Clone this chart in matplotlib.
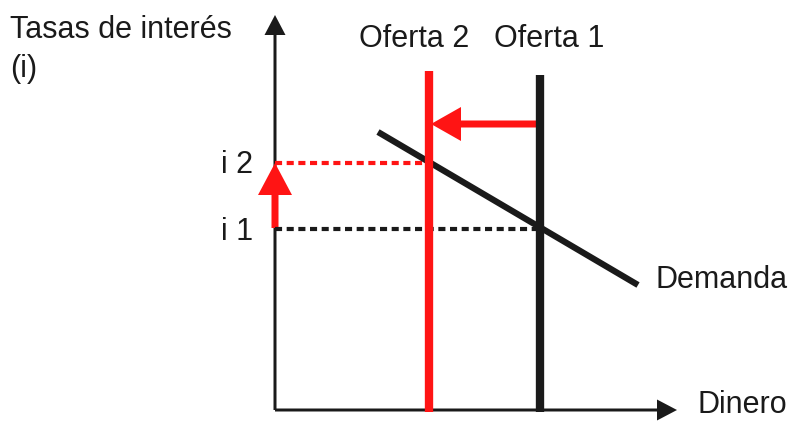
import matplotlib.pyplot as plt

# schematic coordinates (pixel-like units, y grows downward)
origin_x, origin_y = 275, 410
money_axis_end = 677
rate_axis_top = 15

supply_names = ['Oferta 1', 'Oferta 2']
supply_x = [540, 429]
supply_top = [75, 71]
supply_colors = ['#1a1a1a', '#ff1414']

demand_x = [378, 638]
demand_y = [132, 285]

rate_labels = ['i 1', 'i 2']
rate_y = [229, 163]

plt.rcParams['font.family'] = ['Liberation Sans', 'DejaVu Sans']
fig = plt.figure(figsize=(7.95, 4.21), dpi=100)
ax = fig.add_axes([0, 0, 1, 1])
ax.set_xlim(0, 795)
ax.set_ylim(421, 0)
ax.axis('off')

black = '#1a1a1a'
red = '#ff1414'
fs = 22

# axes with arrowheads
ax.arrow(origin_x, origin_y, 0, rate_axis_top - origin_y, width=3, head_width=21,
         head_length=20, length_includes_head=True, color=black, lw=0)
ax.arrow(origin_x, origin_y, money_axis_end - origin_x, 0, width=3, head_width=21,
         head_length=20, length_includes_head=True, color=black, lw=0)

# dotted guide lines for interest rates
ax.plot([origin_x, supply_x[0]], [rate_y[0], rate_y[0]], color=black, lw=3,
        dashes=(1.7, 1.1))
ax.plot([origin_x, supply_x[1]], [rate_y[1], rate_y[1]], color=red, lw=3,
        dashes=(1.7, 1.1))

# demand curve
ax.plot(demand_x, demand_y, color=black, lw=4.5, solid_capstyle='butt')

# supply lines
for sx, top, c in zip(supply_x, supply_top, supply_colors):
    ax.plot([sx, sx], [top, origin_y + 2], color=c, lw=6, solid_capstyle='butt')

# shift arrows
ax.arrow(supply_x[0], 124, supply_x[1] + 2 - supply_x[0], 0, width=7, head_width=34,
         head_length=30, length_includes_head=True, color=red, lw=0)
ax.arrow(origin_x, rate_y[0] - 1, 0, rate_y[1] - rate_y[0] + 1, width=7, head_width=34,
         head_length=32, length_includes_head=True, color=red, lw=0)

# labels
kw = dict(fontsize=fs, va='baseline', ha='left', color=black)
ax.text(10, 38, 'Tasas de interés', **kw)
ax.text(10, 77, '(i)', **kw)
ax.text(359, 47, supply_names[1], **kw)
ax.text(494, 47, supply_names[0], **kw)
for lab, ry in zip(rate_labels, [240, 173]):
    ax.text(221, ry, lab, **kw)
ax.text(656, 288, 'Demanda', **kw)
ax.text(697, 413, 'Dinero', **kw)

fig.savefig('out.png', dpi=100)
